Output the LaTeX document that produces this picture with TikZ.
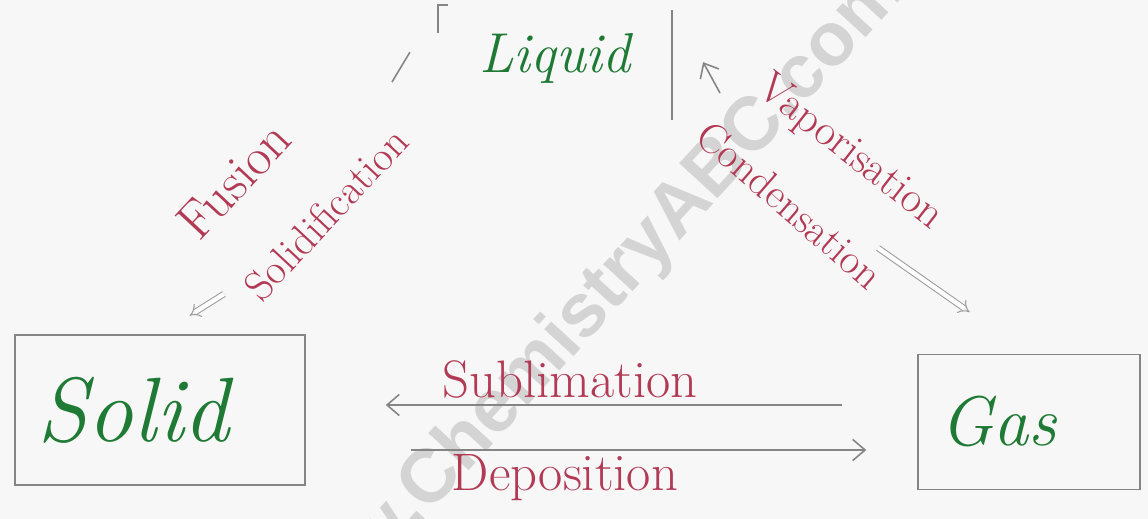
\documentclass[tikz,border=0pt]{standalone}
\usepackage{fontspec}
\newfontfamily\markfont{Liberation Sans}
\usetikzlibrary{arrows.meta}
\definecolor{inkgreen}{HTML}{1E7A34}
\definecolor{inkred}{HTML}{B23A55}
\definecolor{pencil}{HTML}{858585}
\begin{document}
\begin{tikzpicture}[x=0.02cm, y=-0.02cm,
  statebox/.style={draw=pencil, line width=0.9pt, text=inkgreen, align=left},
  proc/.style={text=inkred, font=\fontsize{24}{26}\selectfont},
  pen/.style={draw=pencil, line width=0.9pt},
  barb/.style={pen, -{Straight Barb[length=7pt, width=12pt]}},
  dbl/.style={draw=pencil!80, line width=0.6pt, double=white, double distance=2.5pt, -{Implies}}]
\useasboundingbox (0,0) rectangle (1148,519);
\fill[black!3] (0,0) rectangle (1148,519);
% watermark
\begin{scope}
\clip (0,0) rectangle (1148,519);
\node[rotate=47.5, text=black!17, font=\markfont\bfseries\fontsize{43}{46}\selectfont] (mark) at (588,312) {www.ChemistryABC.com};
\end{scope}
% the three states
\node[statebox, minimum width=5.8cm, minimum height=3cm, inner xsep=0.45cm, text width=4.9cm,
  font=\fontsize{52}{56}\selectfont\itshape] (solid) at (160,410) {Solid};
\node[statebox, minimum width=4.44cm, minimum height=2.7cm, inner xsep=0.45cm, text width=3.54cm,
  font=\fontsize{40}{44}\selectfont\itshape] (gas) at (1029,422) {Gas};
\node[text=inkgreen, minimum width=4.66cm, minimum height=2.1cm, font=\fontsize{32}{34}\selectfont\itshape] (liquid) at (555,58) {Liquid};
\draw[pen] ([yshift=-0.56cm]liquid.north west) -- (liquid.north west) -- ++(10,0);
\draw[pen] ([yshift=-0.1cm]liquid.north east) -- ([yshift=-0.18cm]liquid.south east);
% liquid <-> solid
\coordinate (fusTop) at (392,82);
\coordinate (solTop) at (224,294);
\draw[pen, shorten >=1.1cm] (fusTop) -- (liquid.north west);
\draw[dbl, shorten >=0.7cm] (solTop) -- (solid.north);
\node[proc, rotate=47, font=\fontsize{30}{32}\selectfont] (fusion) at (234,180) {Fusion};
\node[proc, rotate=47] (solidif) at (326,214) {Solidification};
% liquid <-> gas
\coordinate (conBot) at (720,93);
\coordinate (vapTop) at (878,248);
\draw[barb, shorten >=1.3cm] (conBot) -- (liquid.north east);
\draw[dbl, shorten >=1.45cm] (vapTop) -- (gas.north);
\node[proc, rotate=-38, font=\fontsize{25}{27}\selectfont] (vapor) at (850,153) {Vaporisation};
\node[proc, rotate=-41] (conden) at (790,205) {Condensation};
% solid <-> gas
\coordinate (subY) at (0,405);
\coordinate (depY) at (0,450);
\draw[barb, shorten <=1.5cm, shorten >=1.6cm] (gas.west |- subY) -- (solid.east |- subY);
\draw[barb, shorten <=2.1cm, shorten >=1.02cm] (solid.east |- depY) -- (gas.west |- depY);
\node[proc, font=\fontsize{30}{32}\selectfont] (sublim) at (570,380) {Sublimation};
\node[proc, font=\fontsize{30}{32}\selectfont] (depos) at (565,478) {Deposition};
\end{tikzpicture}
\end{document}
